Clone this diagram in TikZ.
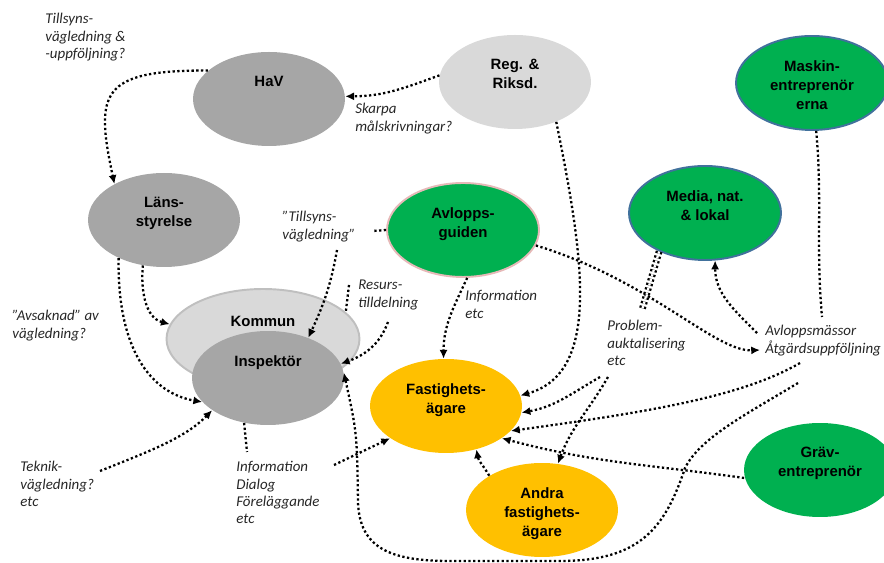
\documentclass[tikz,border=0pt]{standalone}
\usepackage{fontspec}
\setmainfont{Liberation Sans}
\newfontfamily\notefont{Carlito}
\usepackage{xcolor}
\usepackage{tikz}
\usetikzlibrary{calc,shapes.geometric,arrows.meta}
\definecolor{stone}{HTML}{A6A6A6}
\definecolor{mist}{HTML}{D9D9D9}
\definecolor{mistEdge}{HTML}{BFBFBF}
\definecolor{leaf}{HTML}{00B050}
\definecolor{steel}{HTML}{41719C}
\definecolor{rose}{HTML}{E6B9B8}
\definecolor{amber}{HTML}{FFC000}
\tikzset{
  blob/.style={ellipse, minimum width=3.04cm, minimum height=1.88cm, inner sep=0pt, draw=none},
  stoneBlob/.style={blob, fill=stone},
  mistBlob/.style={blob, fill=mist},
  leafBlob/.style={blob, fill=leaf, line width=1.1pt},
  amberBlob/.style={blob, fill=amber},
  blobTxt/.style={anchor=north, inner sep=0pt, align=center, font=\bfseries\fontsize{8.5}{10.8}\selectfont},
  noteLbl/.style={anchor=north west, inner sep=0pt, align=left, text=black!85, font=\notefont\itshape\fontsize{8.5}{9.9}\selectfont},
  dotLine/.style={line width=1.3pt, dash pattern=on 1.3pt off 1.4pt},
  flowArr/.style={dotLine, -{Latex[length=5pt,width=4.6pt]}},
}
\newcommand{\FreeEnds}{%
  \coordinate (teknS) at (100,92);
  \coordinate (tsvS)  at (337,313);
  \coordinate (tsvE)  at (373,332);
  \coordinate (resW)  at (349,278);
  \coordinate (resS)  at (388,241);
  \coordinate (avmW)  at (760,213);
  \coordinate (avmN)  at (757,230);
  \coordinate (avmA)  at (800,200);
  \coordinate (avmB)  at (798,180);
  \coordinate (maskE) at (822,246);
  \coordinate (probN) at (642,253);
  \coordinate (probA) at (600,186);
  \coordinate (probB) at (608,186);
  \coordinate (idfN)  at (247,111);
  \coordinate (idfE)  at (334,98);
}
\begin{document}
\begin{tikzpicture}[x=0.02cm, y=0.02cm]
  \useasboundingbox (0,0) rectangle (884,563);
  \FreeEnds

  % actors
  \node[stoneBlob] (hav) at (269,464) {};
  \node[mistBlob] (reg) at (515,481) {};
  \node[leafBlob, draw=steel] (mask) at (812,480) {};
  \node[leafBlob, draw=steel] (media) at (705,350) {};
  \node[stoneBlob] (lans) at (164,343) {};
  \node[leafBlob, draw=rose] (avl) at (463,333) {};
  \node[mistBlob, draw=mistEdge, line width=1.1pt, minimum width=3.86cm, minimum height=2.0cm] (kom) at (263,224) {};
  \node[stoneBlob] (insp) at (268,185) {};
  \node[amberBlob] (fast) at (446,157) {};
  \node[amberBlob] (andra) at (542,53) {};
  \node[leafBlob] (grav) at (820,93) {};

  \node[blobTxt] (havT) at ($(hav)+(0,23)$) {HaV};
  \node[blobTxt] (regT) at ($(reg)+(0,23)$) {Reg. \&\\Riksd.};
  \node[blobTxt] (maskT) at ($(mask)+(0,23)$) {Maskin-\\entreprenör\\erna};
  \node[blobTxt] (mediaT) at ($(media)+(0,23)$) {Media, nat.\\\& lokal};
  \node[blobTxt] (lansT) at ($(lans)+(0,23)$) {Läns-\\styrelse};
  \node[blobTxt] (avlT) at ($(avl)+(0,23)$) {Avlopps-\\guiden};
  \node[blobTxt] (komT) at ($(kom)+(0,23)$) {Kommun};
  \node[blobTxt] (inspT) at ($(insp)+(0,23)$) {Inspektör};
  \node[blobTxt] (fastT) at ($(fast)+(0,23)$) {Fastighets-\\ägare};
  \node[blobTxt] (andraT) at ($(andra)+(0,23)$) {Andra\\fastighets-\\ägare};
  \node[blobTxt] (gravT) at ($(grav)+(0,23)$) {Gräv-\\entreprenör};

  % notes
  \node[noteLbl] (tsu) at (45,550) {Tillsyns-\\vägledning \&\\-uppföljning?};
  \node[noteLbl] (skarpa) at (355,460) {Skarpa\\målskrivningar?};
  \node[noteLbl] (tsv) at (282,352) {”Tillsyns-\\vägledning”};
  \node[noteLbl] (res) at (358,283) {Resurs-\\tilldelning};
  \node[noteLbl] (info) at (465,273) {Information\\etc};
  \node[noteLbl] (avsak) at (12,253) {”Avsaknad” av\\vägledning?};
  \node[noteLbl] (prob) at (607,243) {Problem-\\auktalisering\\etc};
  \node[noteLbl] (avm) at (765,238) {Avloppsmässor\\Åtgärdsuppföljning};
  \node[noteLbl] (tekn) at (20,102) {Teknik-\\vägledning?\\etc};
  \node[noteLbl] (idf) at (236,102) {Information\\Dialog\\Föreläggande\\etc};

  % flows
  \draw[flowArr] (hav.155) .. controls (100,493) and (95,470) .. (lans.144);
  \draw[flowArr] (reg.175) to[out=200, in=0] (hav.2);
  \draw[flowArr] (reg.-44) .. controls (585,300) and (600,190) .. (fast.8);
  \draw[flowArr] (lans.-115) to[out=-95, in=165] (kom.171);
  \draw[flowArr] (lans.-140) .. controls (117,215) and (150,170) .. (insp.-160);
  \draw[flowArr] (teknS) .. controls (150,112) and (185,125) .. (insp.-150);
  \draw[flowArr] (tsvS) to[out=-100, in=65] (insp.45);
  \draw[dotLine] (resW) -- (kom.18);
  \draw[flowArr] (resS) to[out=-110, in=20] (insp.11);
  \draw[flowArr] (avl.-85) to[out=-115, in=90] (fast.93);
  \draw[dotLine] (avl.west) -- (tsvE);
  \draw[flowArr] (avl.-12) .. controls (650,283) and (715,211) .. (avmW);
  \draw[flowArr] (avmN) to[out=135, in=-90] (media.-78);
  \draw[dotLine, double, double distance=1.3pt] (media.-140) -- (probN);
  \draw[dotLine] (mask.-85) to[out=-85, in=95] (maskE);
  \draw[flowArr] (probA) to[out=-150, in=10] (fast.-5);
  \draw[flowArr] (probB) to[out=-120, in=70] (andra.71);
  \draw[flowArr] (avmA) .. controls (740,165) and (640,150) .. (fast.-21);
  \draw[flowArr] (avmB) .. controls (745,148) and (700,125) .. (685,95)
    .. controls (665,35) and (640,2) .. (560,2) -- (450,2)
    .. controls (390,2) and (360,15) .. (358,60)
    .. controls (357,130) .. (insp.4);
  \draw[flowArr] (grav.-174) to[out=172, in=-15] (fast.-30);
  \draw[flowArr] (andra.147) to[out=120, in=-80] (fast.-55);
  \draw[dotLine] (insp.-118) -- (idfN);
  \draw[flowArr] (idfE) -- (fast.-150);
\end{tikzpicture}
\end{document}
